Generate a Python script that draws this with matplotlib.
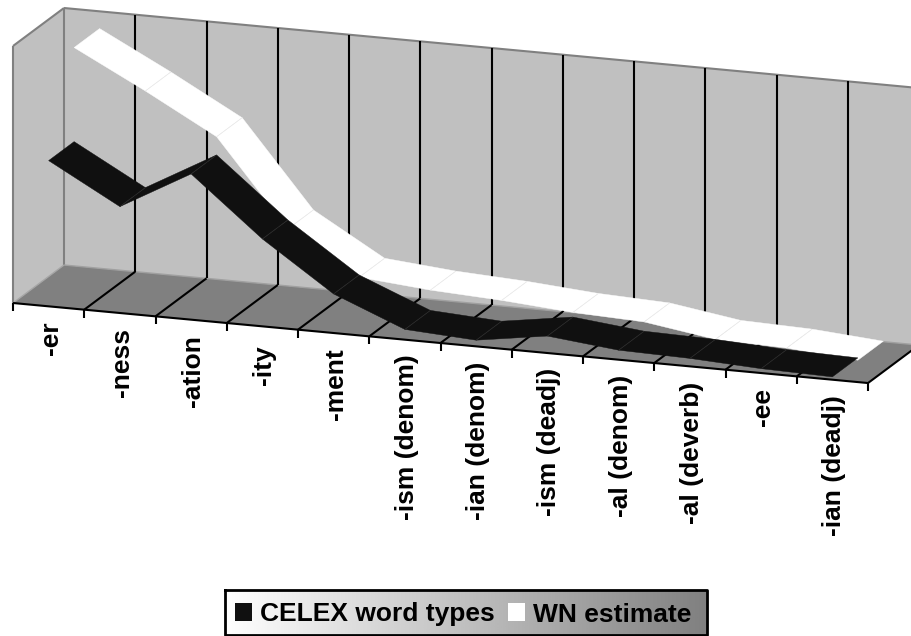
import numpy as np
import matplotlib
matplotlib.use("Agg")
import matplotlib.pyplot as plt
from matplotlib.patches import Patch, Polygon

# Data (share of the value axis, there are no value labels in the chart)
suffixes = ["-er", "-ness", "-ation", "-ity", "-ment", "-ism (denom)", "-ian (denom)",
            "-ism (deadj)", "-al (denom)", "-al (deverb)", "-ee", "-ian (deadj)"]
celex_types = [0.567, 0.414, 0.567, 0.340, 0.152, 0.040, 0.024, 0.066, 0.037, 0.031, 0.017, 0.011]
wn_estimate = [0.933, 0.790, 0.638, 0.305, 0.143, 0.119, 0.105, 0.084, 0.073, 0.031, 0.023, 0.002]

plt.rcParams["font.family"] = ["Liberation Sans", "DejaVu Sans"]
plt.rcParams["font.weight"] = "bold"

fig = plt.figure(figsize=(9.11, 6.36), dpi=100)
ax = fig.add_axes([0, 0, 1, 1])
ax.set_xlim(0, 911)
ax.set_ylim(636, 0)
ax.axis("off")


# Excel style oblique 3D: category, value, depth -> pixel position
def project(c, v, d):
    c, v, d = np.asarray(c, float), np.asarray(v, float), np.asarray(d, float)
    return np.column_stack(np.broadcast_arrays(13 + 71.25 * c + 51 * d,
                                               303 + 6.67 * c - 257 * v - 38 * d))


n = len(suffixes)


def quad(corners, **kw):
    pts = np.vstack([project(*p) for p in corners])
    ax.add_patch(Polygon(pts, closed=True, **kw))


def line(p0, p1, **kw):
    pts = np.vstack([project(*p0), project(*p1)])
    ax.plot(pts[:, 0], pts[:, 1], solid_capstyle="butt", **kw)


# walls and floor
quad([(0, 0, 0), (0, 0, 1), (0, 1, 1), (0, 1, 0)], fc="#c0c0c0", ec="none", zorder=1)
quad([(0, 0, 1), (n, 0, 1), (n, 1, 1), (0, 1, 1)], fc="#c0c0c0", ec="none", zorder=1)
quad([(0, 0, 0), (n, 0, 0), (n, 0, 1), (0, 0, 1)], fc="#808080", ec="none", zorder=1)

line((0, 1, 0), (0, 1, 1), color="#808080", lw=1.5, zorder=2)
line((0, 0, 0), (0, 1, 0), color="#808080", lw=1.5, zorder=2)
line((0, 0, 1), (0, 1, 1), color="#808080", lw=1.5, zorder=2)
line((0, 1, 1), (n, 1, 1), color="#808080", lw=1.5, zorder=2)
line((0, 0, 0), (0, 0, 1), color="#a6a6a6", lw=1, zorder=2)
line((0, 0, 1), (n, 0, 1), color="#a0a0a0", lw=1, zorder=2)

# gridlines
for c in range(1, n + 1):
    line((c, 0, 1), (c, 1, 1), color="black", lw=1.5, zorder=2)
    line((c, 0, 0), (c, 0, 1), color="black", lw=1.5, zorder=2)

# front axis with ticks
line((0, 0, 0), (n, 0, 0), color="black", lw=1.5, zorder=5)
for c in range(n + 1):
    x, y = project(c, 0, 0)[0]
    ax.plot([x, x], [y, y + 8], color="black", lw=1.5, solid_capstyle="butt", zorder=5)


# ribbons, back series first
def ribbon(values, d0, d1, color, seam, z):
    for i in range(n - 1):
        quad([(i + 0.5, values[i], d0), (i + 1.5, values[i + 1], d0),
              (i + 1.5, values[i + 1], d1), (i + 0.5, values[i], d1)],
             fc=color, ec=color, lw=0.3, zorder=z)
    for i in range(1, n - 1):
        line((i + 0.5, values[i], d0), (i + 0.5, values[i], d1), color=seam, lw=0.5, zorder=z)


ribbon(wn_estimate, 0.5, 1.0, "white", "#e6e6e6", 3)
ribbon(celex_types, 0.0, 0.5, "#101010", "#303030", 4)

# category labels
for i, name in enumerate(suffixes):
    x, y = project(i + 0.5, 0, 0)[0]
    gap = 19 if name == "-ity" else 15  # this one sits a bit lower in the original
    ax.text(x + 2, y + gap, name, rotation=90, ha="center", va="top", fontsize=19,
            fontweight="bold", color="black")

# legend with the grey gradient behind it
grad = np.linspace(1, 0.5, 256).reshape(1, -1)
ax.imshow(grad, cmap="gray", vmin=0, vmax=1, extent=(225, 707, 635, 590), aspect="auto", zorder=1)
ax.set_xlim(0, 911)
ax.set_ylim(636, 0)
handles = [Patch(fc="#101010", ec="none", label="CELEX word types"),
           Patch(fc="white", ec="none", label="WN estimate")]
leg = ax.legend(handles=handles, ncol=2, loc="center", bbox_to_anchor=(463, 614.5),
                bbox_transform=ax.transData, fontsize=19, frameon=False, borderpad=0,
                handlelength=0.644, handleheight=0.644, handletextpad=0.3, columnspacing=0.52)

ax.plot([225, 707, 707, 225, 225], [590, 590, 635, 635, 590], color="black", lw=2, zorder=6)

fig.savefig("out.png", dpi=100)
